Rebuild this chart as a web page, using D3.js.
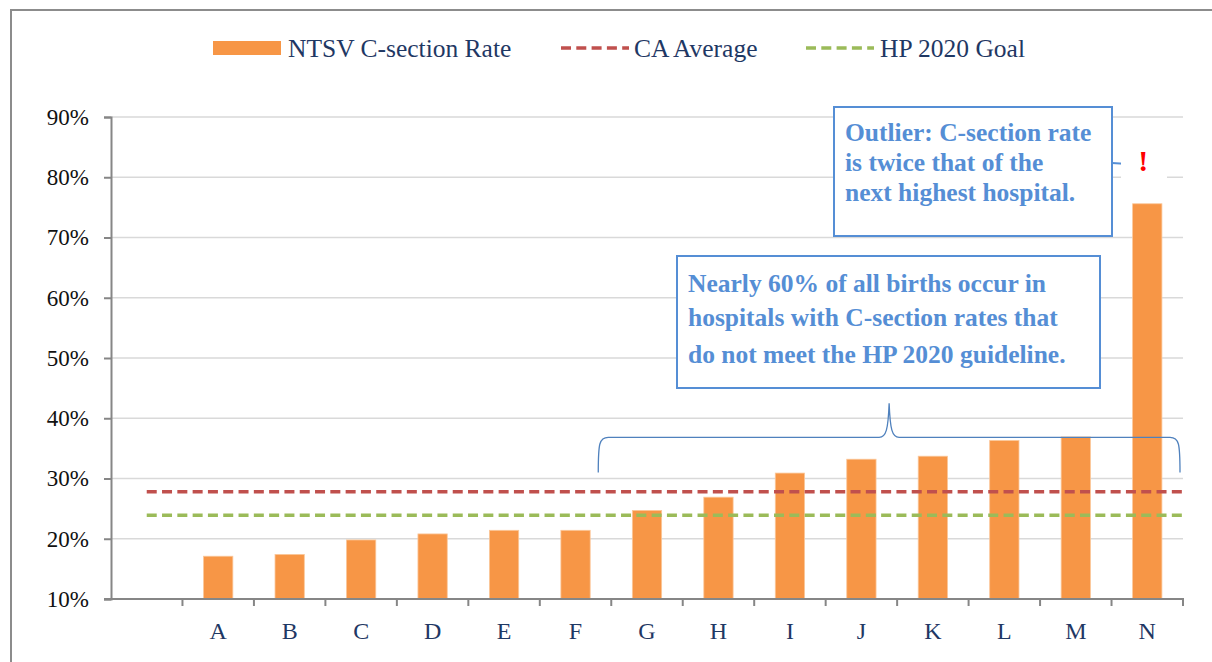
<!DOCTYPE html>
<html>
<head>
<meta charset="utf-8">
<script src="https://cdn.jsdelivr.net/npm/d3@7"></script>
<style>
  html, body { margin: 0; padding: 0; background: #fff; }
  svg { display: block; }
</style>
</head>
<body>
<svg id="chart" width="1212" height="662"></svg>
<script>
// ---- data ----
const categories = ["A","B","C","D","E","F","G","H","I","J","K","L","M","N"];
const rates = [0.171, 0.174, 0.198, 0.208, 0.214, 0.214, 0.247, 0.269, 0.309, 0.332, 0.337, 0.363, 0.369, 0.756];
const caAverage = 0.278;
const hp2020Goal = 0.239;
const yTicks = [0.1, 0.2, 0.3, 0.4, 0.5, 0.6, 0.7, 0.8, 0.9];
const legendLabels = ["NTSV C-section Rate", "CA Average", "HP 2020 Goal"];
const outlierNote = ["Outlier: C-section rate", "is twice that of the", "next highest hospital."];
const majorityNote = ["Nearly 60% of all births occur in", "hospitals with C-section rates that", "do not meet the HP 2020 guideline."];
const bracedFrom = "G", bracedTo = "N";

// ---- setup ----
const W = 1212, H = 662;
const m = { left: 111, right: 1183, top: 117, bottom: 599 };
const svg = d3.select("#chart");
const serif = "'Liberation Serif', 'Times New Roman', serif";
const orange = "#F79646", red = "#C0504D", green = "#9BBB59", blue = "#558ED5", navy = "#1F3864";

// slot domain: an empty leading slot, then the hospitals
const slots = [""].concat(categories);
const x = d3.scaleBand().domain(slots).range([m.left, m.right]).padding(0);
const y = d3.scaleLinear().domain([0.1, 0.9]).range([m.bottom, m.top]);
const bw = x.bandwidth();
const barW = bw * 0.41;

// outer frame
svg.append("rect").attr("x", 11).attr("y", 10).attr("width", W + 20).attr("height", H + 20)
  .attr("fill", "none").attr("stroke", "#8c8c8c").attr("stroke-width", 2);

// gridlines
svg.append("g").selectAll("line").data(yTicks.slice(1)).join("line")
  .attr("x1", m.left).attr("x2", m.right)
  .attr("y1", d => y(d)).attr("y2", d => y(d))
  .attr("stroke", "#d9d9d9").attr("stroke-width", 1.5);

// bars
svg.append("g").selectAll("rect").data(categories).join("rect")
  .attr("x", (d) => x(d) + (bw - barW) / 2)
  .attr("width", barW)
  .attr("y", (d, i) => y(rates[i]))
  .attr("height", (d, i) => y(0.1) - y(rates[i]))
  .attr("fill", orange).attr("stroke", "#fbc79a").attr("stroke-width", 0.8);

// reference lines
const lineX1 = x("") + bw / 2, lineX2 = m.right + 3;
[[caAverage, red], [hp2020Goal, green]].forEach(([v, c]) => {
  svg.append("line").attr("x1", lineX1).attr("x2", lineX2)
    .attr("y1", y(v)).attr("y2", y(v))
    .attr("stroke", c).attr("stroke-width", 3.5).attr("stroke-dasharray", "10,5.3");
});

// y axis
const yAxis = d3.axisLeft(y).tickValues(yTicks).tickFormat(d3.format(".0%")).tickSize(7).tickPadding(15);
const gy = svg.append("g").attr("transform", `translate(${m.left},0)`).call(yAxis);
gy.select(".domain").attr("stroke", "#868686").attr("stroke-width", 2);
gy.selectAll(".tick line").attr("stroke", "#868686").attr("stroke-width", 2);
gy.selectAll(".tick text").attr("font-family", serif).attr("font-size", 23).attr("fill", "#111");

// x axis line + ticks at slot boundaries
svg.append("line").attr("x1", m.left - 7).attr("x2", m.right + 1)
  .attr("y1", y(0.1)).attr("y2", y(0.1)).attr("stroke", "#868686").attr("stroke-width", 2);
svg.append("g").selectAll("line").data(slots).join("line")
  .attr("x1", d => x(d) + bw).attr("x2", d => x(d) + bw)
  .attr("y1", y(0.1)).attr("y2", y(0.1) + 7)
  .attr("stroke", "#868686").attr("stroke-width", 2);
svg.append("g").selectAll("text").data(categories).join("text")
  .attr("x", d => x(d) + bw / 2).attr("y", y(0.1) + 40)
  .attr("text-anchor", "middle").attr("font-family", serif).attr("font-size", 24)
  .attr("fill", navy).text(d => d);

// legend
const lg = svg.append("g").attr("font-family", serif).attr("font-size", 25.5).attr("fill", navy);
lg.append("rect").attr("x", 213).attr("y", 41).attr("width", 68).attr("height", 14).attr("fill", orange);
lg.append("text").attr("x", 288).attr("y", 57).text(legendLabels[0]);
lg.append("line").attr("x1", 561).attr("x2", 629).attr("y1", 48).attr("y2", 48)
  .attr("stroke", red).attr("stroke-width", 3.5).attr("stroke-dasharray", "10,5.3");
lg.append("text").attr("x", 634).attr("y", 57).text(legendLabels[1]);
lg.append("line").attr("x1", 806).attr("x2", 874).attr("y1", 48).attr("y2", 48)
  .attr("stroke", green).attr("stroke-width", 3.5).attr("stroke-dasharray", "10,5.3");
lg.append("text").attr("x", 880).attr("y", 57).text(legendLabels[2]);

// brace over G..N
const bL = x(bracedFrom) - 13, bR = x(bracedTo) + bw - 3;
const bMid = (bL + bR) / 2;
const bTop = y(0.37) + 1, bBot = y(0.31), bPeak = y(0.425);
const brace = `M${bL},${bBot} C${bL},${bTop + 6} ${bL + 1},${bTop} ${bL + 10},${bTop}
  L${bMid - 10},${bTop} C${bMid - 3},${bTop} ${bMid - 1},${bTop - 8} ${bMid},${bPeak}
  C${bMid + 1},${bTop - 8} ${bMid + 3},${bTop} ${bMid + 10},${bTop}
  L${bR - 10},${bTop} C${bR - 1},${bTop} ${bR},${bTop + 6} ${bR},${bBot}`;
svg.append("path").attr("d", brace).attr("fill", "none").attr("stroke", "#4F81BD").attr("stroke-width", 1.3);

// annotation boxes
function note(lines, bx, by, bwid, bh, tx, baselines) {
  svg.append("rect").attr("x", bx).attr("y", by).attr("width", bwid).attr("height", bh)
    .attr("fill", "#fff").attr("stroke", blue).attr("stroke-width", 2);
  svg.append("g").selectAll("text").data(lines).join("text")
    .attr("x", tx).attr("y", (d, i) => baselines[i])
    .attr("font-family", serif).attr("font-weight", "bold").attr("font-size", 25.5)
    .attr("fill", blue).text(d => d);
}
note(majorityNote, 677, 256, 423, 132, 688, [292, 326, 363]);
note(outlierNote, 834, 107, 278, 129, 845, [141, 171, 201]);

// outlier connector and marker
svg.append("line").attr("x1", 1112).attr("x2", 1128).attr("y1", 163).attr("y2", 164)
  .attr("stroke", blue).attr("stroke-width", 2);
svg.append("rect").attr("x", 1121).attr("y", 140).attr("width", 46).attr("height", 40).attr("fill", "#fff");
svg.append("text").attr("x", x("N") + bw / 2 - 4).attr("y", 171).attr("text-anchor", "middle")
  .attr("font-family", serif).attr("font-weight", "bold").attr("font-size", 30)
  .attr("fill", "#FF0000").text("!");
</script>
</body>
</html>
